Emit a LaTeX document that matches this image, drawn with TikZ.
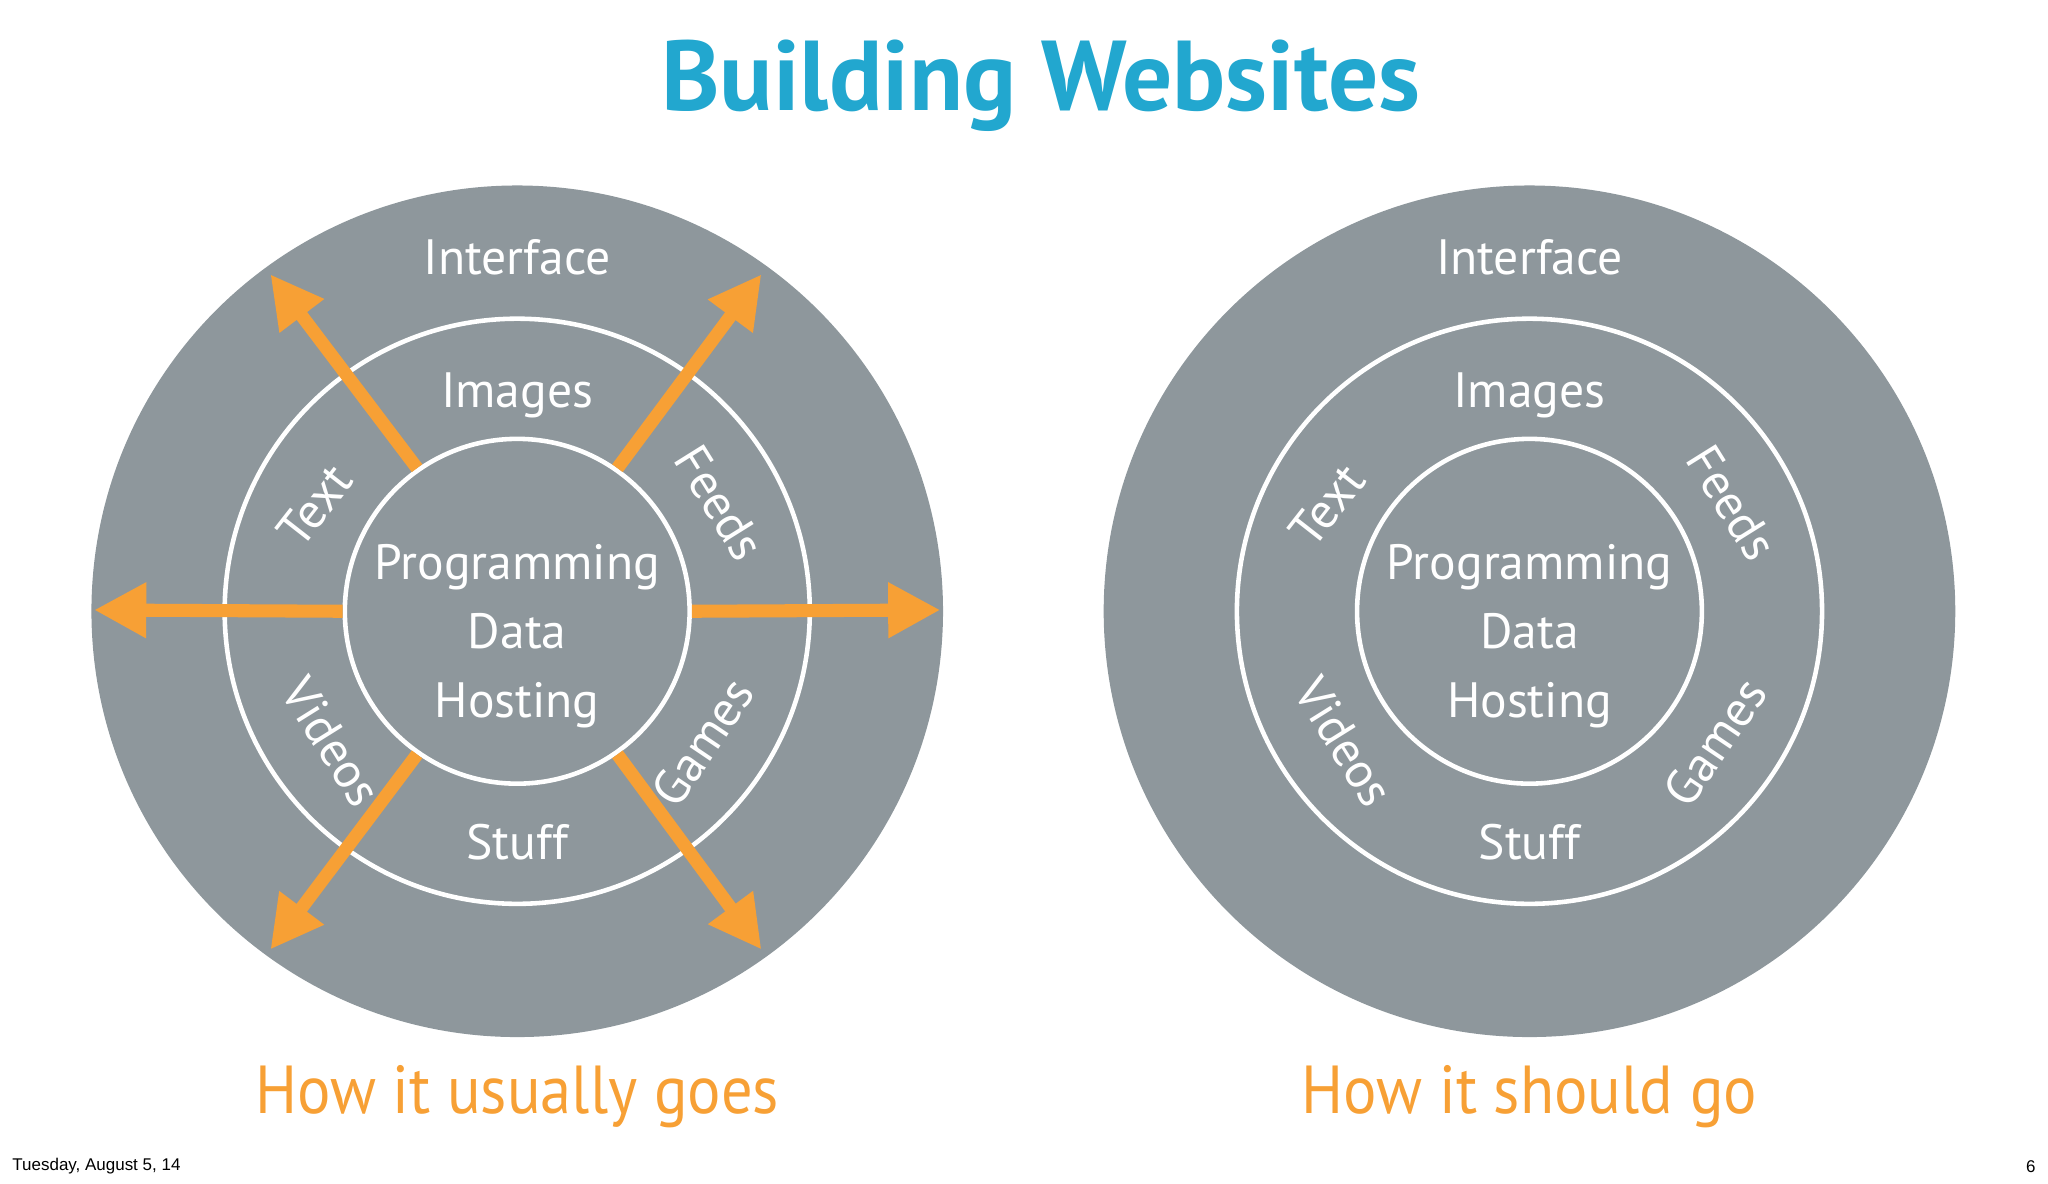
\documentclass[tikz,border=0pt]{standalone}
\usepackage{fontspec}
\setmainfont{PT Sans}
\newfontfamily\footfont{Liberation Sans}
\usetikzlibrary{arrows.meta}
\definecolor{disk}{HTML}{8E979C}
\definecolor{orng}{HTML}{F7A035}
\definecolor{ttl}{HTML}{22A7CF}
\tikzset{
  outerdisk/.style={circle,fill=disk,minimum size=652pt,inner sep=0},
  ring/.style={circle,draw=white,line width=3.5pt,minimum size=448pt,inner sep=0},
  core/.style={circle,draw=white,line width=3.5pt,fill=disk,minimum size=264pt,inner sep=0},
  lbl/.style={text=white,font=\fontsize{38}{44}\selectfont},
  captxt/.style={text=orng,font=\fontsize{52}{56}\selectfont,xscale=0.92},
  oarr/.style={draw=orng,line width=10pt,-{Triangle[length=40pt,width=40pt]}}
}
\begin{document}
\begin{tikzpicture}[x=1pt,y=-1pt]
\useasboundingbox (0,0) rectangle (1568,906.5);
\node[text=ttl,font=\fontsize{76}{80}\selectfont\bfseries] (title) at (797,66) {Building Websites};
\foreach \cx/\nm in {396/L,1171/R}{
  \node[outerdisk] (out\nm) at (\cx,468) {};
  \node[ring] (ring\nm) at (\cx,468) {};
  \node[core] (core\nm) at (\cx,468) {};
  \node[lbl] (if\nm) at (\cx,197) {Interface};
  \node[lbl] (im\nm) at (\cx,303) {Images};
  \node[lbl,align=center,font=\fontsize{38}{53}\selectfont] (pd\nm) at (\cx,487) {Programming\\Data\\Hosting};
  \node[lbl] (st\nm) at (\cx,645) {Stuff};
  \node[lbl,rotate=52] (tx\nm) at (\cx-155,387) {Text};
  \node[lbl,rotate=-58] (fd\nm) at (\cx+155,385) {Feeds};
  \node[lbl,rotate=-58] (vd\nm) at (\cx-142,568) {Videos};
  \node[lbl,rotate=56] (gm\nm) at (\cx+142,568) {Games};
}
\coordinate (eL) at (72,467);
\coordinate (eR) at (720,467);
\coordinate (eUL) at (207,210);
\coordinate (eUR) at (583,210);
\coordinate (eDL) at (207,727);
\coordinate (eDR) at (583,727);
\draw[oarr] (coreL.180) -- (eL);
\draw[oarr] (coreL.0) -- (eR);
\draw[oarr] (coreL.125) -- (eUL);
\draw[oarr] (coreL.55) -- (eUR);
\draw[oarr] (coreL.235) -- (eDL);
\draw[oarr] (coreL.305) -- (eDR);
\node[captxt] (capL) at (396,840) {How it usually goes};
\node[captxt] (capR) at (1171,840) {How it should go};
\node[anchor=west,font=\footfont\fontsize{13}{15}\selectfont] (date) at (6,893) {Tuesday, August 5, 14};
\node[anchor=east,font=\footfont\fontsize{13}{15}\selectfont] (pg) at (1562,893) {6};
\end{tikzpicture}
\end{document}
